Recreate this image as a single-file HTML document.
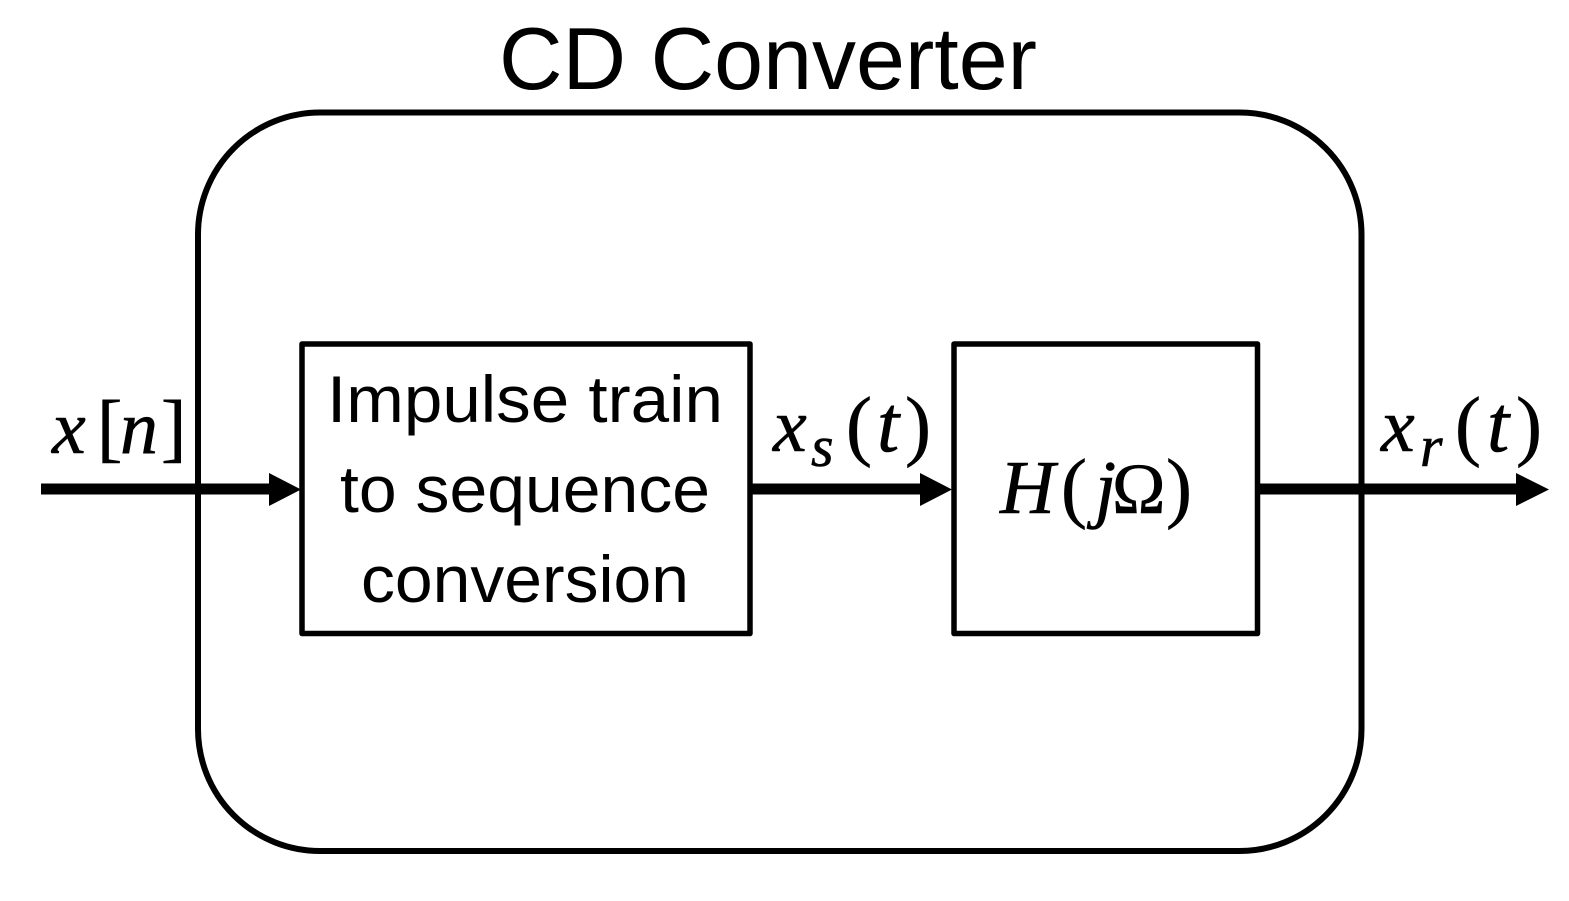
<!DOCTYPE html>
<html lang="en">
<head>
<meta charset="utf-8">
<title>CD Converter</title>
<style>
html,body{margin:0;padding:0;background:#fff;width:1569px;height:901px;overflow:hidden}
svg{display:block}
.sans{font-family:"Liberation Sans",sans-serif;fill:#000}
.math{font-family:"Liberation Serif",serif;fill:#000;stroke:#000;stroke-width:.6}
.it{font-style:italic}
</style>
</head>
<body>
<svg width="1569" height="901" viewBox="0 0 1569 901" xmlns="http://www.w3.org/2000/svg">
<rect x="0" y="0" width="1569" height="901" fill="#fff"/>
<text class="sans" x="499" y="89" font-size="88" textLength="538" lengthAdjust="spacingAndGlyphs">CD Converter</text>
<rect x="198" y="112.500" width="1163.500" height="738.500" rx="122" ry="122" fill="none" stroke="#000" stroke-width="6"/>
<rect x="302" y="344" width="448" height="289.500" fill="none" stroke="#000" stroke-width="5.500" stroke-linejoin="round"/>
<rect x="954" y="344" width="303.500" height="289.500" fill="none" stroke="#000" stroke-width="5.500" stroke-linejoin="round"/>
<g>
<rect x="41" y="483.500" width="230" height="11" fill="#000"/>
<polygon points="269,473 269,506 301,489.500" fill="#000"/>
</g>
<g>
<rect x="752" y="483.500" width="171" height="11" fill="#000"/>
<polygon points="920,473 920,506 952,489.500" fill="#000"/>
</g>
<g>
<rect x="1259" y="483.500" width="259" height="11" fill="#000"/>
<polygon points="1516,473 1516,506 1549,489.500" fill="#000"/>
</g>
<g>
<text class="sans" x="327" y="422" font-size="66" textLength="396" lengthAdjust="spacingAndGlyphs">Impulse train</text>
<text class="sans" x="340" y="512" font-size="66" textLength="370" lengthAdjust="spacingAndGlyphs">to sequence</text>
<text class="sans" x="361" y="602" font-size="66" textLength="328" lengthAdjust="spacingAndGlyphs">conversion</text>
</g>
<g>
<text class="math it" x="52" y="453" font-size="76">x</text>
<text class="math" x="97" y="453" font-size="76">[</text>
<text class="math it" x="120" y="453" font-size="76">n</text>
<text class="math" x="161" y="453" font-size="76">]</text>
</g>
<g>
<text class="math it" x="773" y="451" font-size="76">x</text>
<text class="math it" x="811" y="466" font-size="58">s</text>
<text class="math" x="846" y="451" font-size="78">(</text>
<text class="math it" x="877" y="451" font-size="80">t</text>
<text class="math" x="905" y="451" font-size="78">)</text>
</g>
<g>
<text class="math it" x="1000" y="513" font-size="76">H</text>
<text class="math" x="1061" y="513" font-size="78">(</text>
<text class="math it" x="1095" y="513" font-size="76">j</text>
<text class="math" x="1112" y="513" font-size="72">Ω</text>
<text class="math" x="1166" y="513" font-size="78">)</text>
</g>
<g>
<text class="math it" x="1381" y="451" font-size="76">x</text>
<text class="math it" x="1420" y="466" font-size="58">r</text>
<text class="math" x="1455" y="451" font-size="78">(</text>
<text class="math it" x="1487" y="451" font-size="80">t</text>
<text class="math" x="1516" y="451" font-size="78">)</text>
</g>
</svg>
</body>
</html>
